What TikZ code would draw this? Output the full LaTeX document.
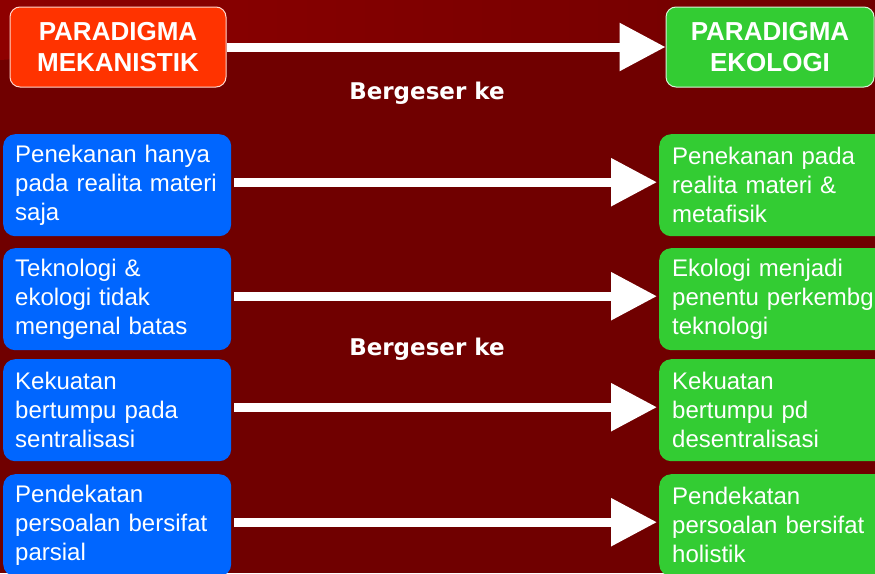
\documentclass[tikz,border=0pt]{standalone}
\usepackage{fontspec}
\setmainfont{Liberation Sans}
\newfontfamily\geserfont{DejaVu Sans}
\usepackage{tikz}
\usetikzlibrary{arrows.meta, positioning}
\definecolor{bgred}{RGB}{112, 0, 0}
\definecolor{bandred}{RGB}{142, 0, 0}
\definecolor{mekblue}{RGB}{0, 102, 255}
\definecolor{ekogreen}{RGB}{51, 204, 51}
\definecolor{mekorange}{RGB}{255, 51, 0}

\begin{document}
\begin{tikzpicture}[x=1pt, y=-1pt,
		headbox/.style={draw=white!80!#1, fill=#1, line width=1pt, rounded corners=10pt,
			text=white, align=center, inner sep=0pt, minimum height=80pt,
			font=\bfseries\fontsize{26}{31}\selectfont},
		itembox/.style={fill=#1, rounded corners=12pt, text=white, align=left,
			anchor=north west, inner ysep=0pt, minimum height=102pt,
			font=\fontsize{24}{29}\selectfont},
		shiftarrow/.style={draw=white, line width=9pt, -{Triangle[length=46pt, width=46pt]}},
		geser/.style={text=white, font=\geserfont\bfseries\fontsize{23}{27}\selectfont}]
	\clip (0,0) rectangle (875,573);
	\fill[bgred] (0,0) rectangle (875,573);
	\shade[left color=bandred, right color=bgred] (0,0) -- (875,0) -- (875,40) -- (230,45) -- (0,60) -- cycle;
	% kepala
	\node[headbox=mekorange, minimum width=216pt] (mek) at (118,47) {PARADIGMA\\MEKANISTIK};
	\node[headbox=ekogreen, minimum width=208pt] (eko) at (770,47) {PARADIGMA\\EKOLOGI};
	\draw[shiftarrow] (mek.east) -- (eko.west);
	\node[geser] (geser1) at (427,93) {Bergeser ke};
	% baris
	\foreach \i/\top/\mek/\eko in {
			1/134/{Penekanan hanya\\pada realita materi\\saja}/{Penekanan pada\\realita materi \&\\metafisik},
			2/248/{Teknologi \&\\ekologi tidak\\mengenal batas}/{Ekologi menjadi\\penentu perkembg\\teknologi},
			3/359/{Kekuatan\\bertumpu pada\\sentralisasi}/{Kekuatan\\bertumpu pd\\desentralisasi},
			4/474/{Pendekatan\\persoalan bersifat\\parsial}/{Pendekatan\\persoalan bersifat\\holistik}}{
		\node[itembox=mekblue, inner xsep=12pt, text width=204pt] (m\i) at (3,\top) {\mek};
		\node[itembox=ekogreen, inner xsep=13pt, text width=220pt] (e\i) at (659,\top) {\eko};
		\draw[shiftarrow, shorten <=3pt, shorten >=2pt] ([yshift=3pt]m\i.east) -- ([yshift=3pt]e\i.west);
	}
	\node[geser] (geser2) at (427,349) {Bergeser ke};
\end{tikzpicture}
\end{document}
